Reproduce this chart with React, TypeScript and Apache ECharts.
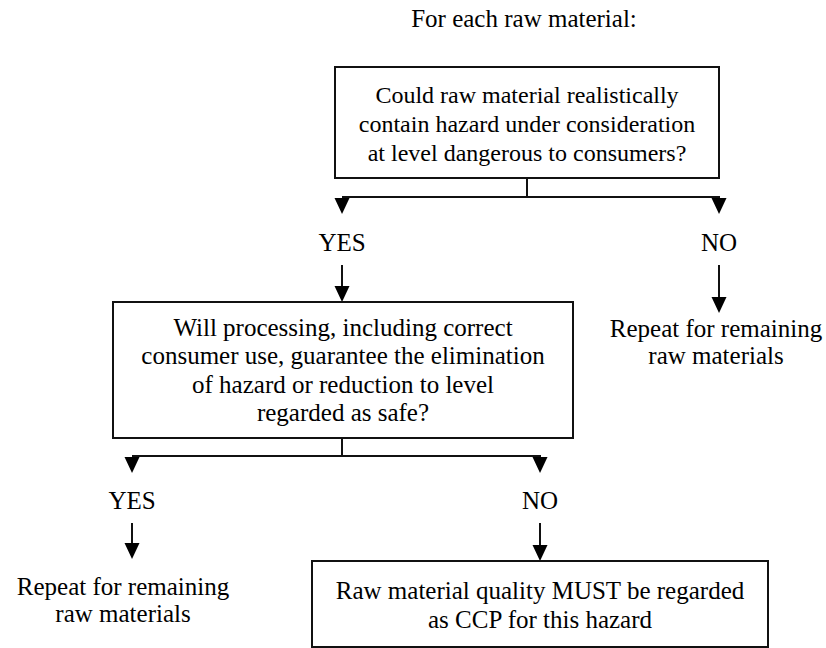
import React, { useEffect, useRef } from "react";
import * as echarts from "echarts";

const titleText = "For each raw material:";
const question1 = ["Could raw material realistically", "contain hazard under consideration", "at level dangerous to consumers?"];
const question2 = ["Will processing, including correct", "consumer use, guarantee the elimination", "of hazard or reduction to level", "regarded as safe?"];
const answerYes = "YES";
const answerNo = "NO";
const repeatText = ["Repeat for remaining", "raw materials"];
const ccpText = ["Raw material quality MUST be regarded", "as CCP for this hazard"];

const INK = "#111";
const FAMILY = "Liberation Serif";

function line1(x: number, y: number, text: string, size: number) {
  return {
    type: "text",
    x,
    y,
    style: {
      text,
      fontFamily: FAMILY,
      fontSize: size,
      fill: "#000",
      align: "center",
      verticalAlign: "middle",
    },
  };
}

function txt(x: number, cy: number, lines: string[] | string, lh = 28.5, size = 25) {
  const arr = Array.isArray(lines) ? lines : [lines];
  const y0 = cy - ((arr.length - 1) * lh) / 2;
  return arr.map((t, i) => line1(x, y0 + i * lh, t, size));
}

function box(x: number, y: number, w: number, h: number) {
  return {
    type: "rect",
    shape: { x, y, width: w, height: h },
    style: { fill: "#fff", stroke: INK, lineWidth: 2 },
  };
}

function seg(x1: number, y1: number, x2: number, y2: number) {
  return {
    type: "line",
    shape: { x1, y1, x2, y2 },
    style: { stroke: INK, lineWidth: 2 },
  };
}

function head(x: number, tipY: number) {
  return {
    type: "polygon",
    shape: { points: [[x - 7.5, tipY - 16], [x + 7.5, tipY - 16], [x, tipY]] },
    style: { fill: "#000" },
  };
}

function arrow(x: number, y1: number, tipY: number) {
  return [seg(x, y1, x, tipY - 10), head(x, tipY)];
}

const css = `.flow-chart svg text, .flow-chart svg tspan { font-family: "Liberation Serif", "Times New Roman", serif !important; }`;

export default function App() {
  const ref = useRef<HTMLDivElement>(null);
  useEffect(() => {
    if (!ref.current) return;
    const chart = echarts.init(ref.current, null, { renderer: "svg" });
    const elements: any[] = [
      ...txt(524, 18, titleText, 28, 25),
      box(335, 67, 384, 111),
      ...txt(527, 124, question1, 29, 24),
      seg(527, 178, 527, 197),
      seg(342, 197, 720, 197),
      head(342, 214),
      head(719, 214),
      ...txt(342, 242, answerYes),
      ...txt(719, 242, answerNo),
      ...arrow(342, 265, 302),
      ...arrow(719, 265, 313),
      ...txt(716, 342, repeatText, 27),
      box(113, 302, 460, 136),
      ...txt(343, 370, question2, 28.5),
      seg(342, 438, 342, 456),
      seg(132, 456, 541, 456),
      head(132, 473),
      head(540, 473),
      ...txt(132, 500, answerYes),
      ...txt(540, 500, answerNo),
      ...arrow(132, 523, 559),
      ...arrow(540, 523, 561),
      ...txt(123, 600, repeatText, 27),
      box(312, 561, 456, 86),
      ...txt(540, 605, ccpText, 29),
    ];
    chart.setOption({
      animation: false,
      backgroundColor: "#fff",
      graphic: { elements },
    });
    return () => chart.dispose();
  }, []);
  return (
    <>
      <style>{css}</style>
      <div
        ref={ref}
        className="flow-chart"
        style={{ position: "fixed", left: 0, top: 0, width: 826, height: 648, background: "#fff" }}
      />
    </>
  );
}
